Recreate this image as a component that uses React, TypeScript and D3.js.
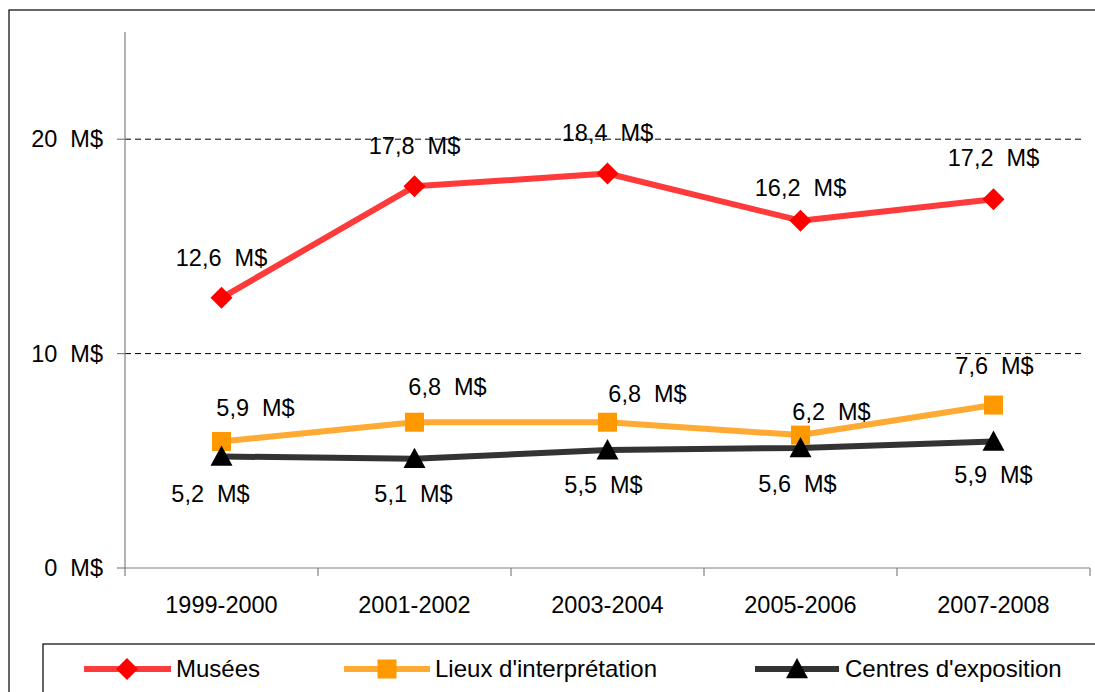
import React from "react";
import * as d3 from "d3";

const categories = ["1999-2000", "2001-2002", "2003-2004", "2005-2006", "2007-2008"];
const musees = [12.6, 17.8, 18.4, 16.2, 17.2];
const lieux = [5.9, 6.8, 6.8, 6.2, 7.6];
const centres = [5.2, 5.1, 5.5, 5.6, 5.9];
const yTicks = [0, 10, 20];
const seriesNames = ["Musées", "Lieux d'interprétation", "Centres d'exposition"];

// label offsets (style, px) relative to point
const museesOff = [[0, -40], [0, -41], [0, -41], [0, -33], [0, -41]];
const lieuxOff = [[34, -34], [33, -35], [40, -28], [31, -23], [1, -39]];
const centresOff = [[-11, 37], [-1, 35], [-4, 35], [-3, 36], [0, 33]];

const fmt = (v: number) => v.toFixed(1).replace(".", ",") + "\u00a0 M$";

export default function App() {
  const W = 1095, H = 692;
  const x0 = 125, x1 = 1090, yTop = 32, yBot = 568;
  const x = d3.scaleBand().domain(categories).range([x0, x1]);
  const y = d3.scaleLinear().domain([0, 25]).range([yBot, yTop]);
  const cx = (i: number) => (x(categories[i]) as number) + x.bandwidth() / 2;
  const line = d3.line<number>().x((_, i) => cx(i)).y((d) => y(d));
  const font = "'Liberation Sans', Arial, sans-serif";
  const fs = 23.5;

  const diamond = (px: number, py: number, r: number) =>
    `M${px},${py - r}L${px + r},${py}L${px},${py + r}L${px - r},${py}Z`;
  const tri = (px: number, py: number, r: number) =>
    `M${px},${py - r}L${px + r},${py + r * 0.85}L${px - r},${py + r * 0.85}Z`;

  const series = [
    { vals: musees, color: "#FF3A3A", mcolor: "#FF0000", marker: "diamond", off: museesOff },
    { vals: lieux, color: "#FFAA33", mcolor: "#FF9900", marker: "square", off: lieuxOff },
    { vals: centres, color: "#333333", mcolor: "#000000", marker: "triangle", off: centresOff },
  ];

  const drawMarker = (m: string, px: number, py: number, c: string, k: string) => {
    if (m === "diamond") return <path key={k} d={diamond(px, py, 11)} fill={c} />;
    if (m === "square") return <rect key={k} x={px - 9.5} y={py - 9.5} width={19} height={19} fill={c} />;
    return <path key={k} d={tri(px, py, 11)} fill={c} />;
  };

  const legendItems = [
    { lx0: 84, lx1: 171, mx: 127, tx: 176 },
    { lx0: 344, lx1: 430, mx: 387, tx: 435 },
    { lx0: 755, lx1: 839, mx: 797, tx: 845 },
  ];
  const legY = 669;

  return (
    <svg width={W} height={H} style={{ position: "absolute", left: 0, top: 0 }} fontFamily={font}>
      <rect x={0} y={0} width={W} height={H} fill="#fff" />
      <rect x={9} y={10} width={W + 20} height={H + 20} fill="none" stroke="#000" strokeWidth={1.2} />
      {yTicks.filter((t) => t > 0).map((t) => (
        <line key={"g" + t} x1={x0} x2={1085} y1={y(t)} y2={y(t)} stroke="#000" strokeWidth={1} strokeDasharray="6,4" />
      ))}
      <line x1={x0} x2={x0} y1={yTop} y2={yBot + 8} stroke="#808080" strokeWidth={1.2} />
      <line x1={x0} x2={x1} y1={yBot} y2={yBot} stroke="#808080" strokeWidth={1.2} />
      {yTicks.map((t) => (
        <g key={"yt" + t}>
          <line x1={x0 - 8} x2={x0} y1={y(t)} y2={y(t)} stroke="#808080" strokeWidth={1.2} />
          <text x={103} y={y(t)} dy="0.35em" textAnchor="end" fontSize={fs} fill="#000">
            {t + "\u00a0 M$"}
          </text>
        </g>
      ))}
      {categories.map((c, i) => (
        <g key={c}>
          <line x1={(x(c) as number) + x.bandwidth()} x2={(x(c) as number) + x.bandwidth()} y1={yBot} y2={yBot + 8} stroke="#808080" strokeWidth={1.2} />
          <text x={cx(i)} y={605} dy="0.35em" textAnchor="middle" fontSize={fs} fill="#000">{c}</text>
        </g>
      ))}
      {series.map((s, si) => (
        <g key={"s" + si}>
          <path d={line(s.vals) as string} fill="none" stroke={s.color} strokeWidth={6} strokeLinejoin="round" />
          {s.vals.map((v, i) => drawMarker(s.marker, cx(i), y(v), s.mcolor, "m" + si + i))}
        </g>
      ))}
      {series.map((s, si) =>
        s.vals.map((v, i) => (
          <text key={"l" + si + i} x={cx(i) + s.off[i][0]} y={y(v) + s.off[i][1]} dy="0.35em" textAnchor="middle" fontSize={fs} fill="#000">
            {fmt(v)}
          </text>
        ))
      )}
      <rect x={43} y={644} width={W} height={H} fill="#fff" stroke="#000" strokeWidth={1.2} />
      {series.map((s, si) => {
        const li = legendItems[si];
        return (
          <g key={"lg" + si}>
            <line x1={li.lx0} x2={li.lx1} y1={legY} y2={legY} stroke={s.color} strokeWidth={6} />
            {drawMarker(s.marker, li.mx, legY, s.mcolor, "lm" + si)}
            <text x={li.tx} y={legY} dy="0.35em" fontSize={24} fill="#000">{seriesNames[si]}</text>
          </g>
        );
      })}
    </svg>
  );
}
